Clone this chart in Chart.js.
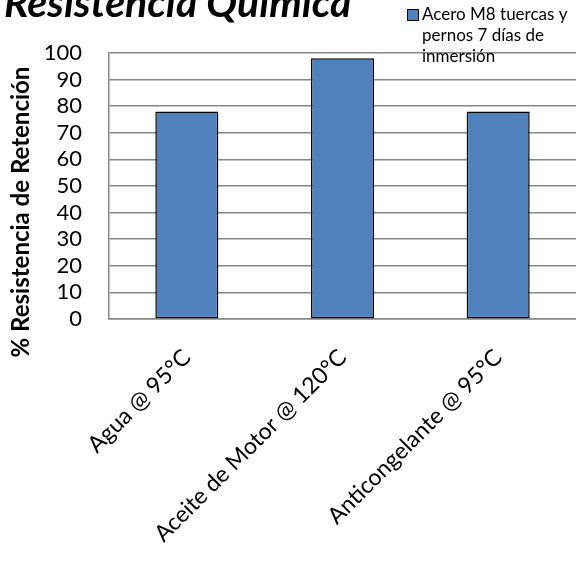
<!DOCTYPE html>
<html>
<head>
<meta charset="utf-8">
<script src="https://cdn.jsdelivr.net/npm/chart.js@4"></script>
<style>
  html, body { margin: 0; padding: 0; background: #fff; }
  #wrap { width: 576px; height: 567px; position: relative; }
</style>
</head>
<body>
<div id="wrap"><canvas id="barChart"></canvas></div>
<script>
const categories = ['Agua @ 95°C', 'Aceite de Motor @ 120°C', 'Anticongelante @ 95°C'];
const retention = [78, 98, 78];
const seriesLabel = ['Acero M8 tuercas y', 'pernos 7 días de', 'inmersión'];
const chartTitle = 'Resistencia Química';
const yAxisTitle = '% Resistencia de Retención';

const fontFamily = 'Lato, "Open Sans", sans-serif';
const barColor = '#4f81bd';

// title, legend and y title are drawn by hand, they sit outside the usual boxes
const extras = {
    id: 'extras',
    afterDraw(chart) {
        const ctx = chart.ctx;
        ctx.save();
        ctx.fillStyle = '#000';
        ctx.font = 'italic bold 41px ' + fontFamily;
        ctx.textBaseline = 'alphabetic';
        ctx.textAlign = 'left';
        ctx.fillText(chartTitle, 4, 17);

        ctx.fillStyle = barColor;
        ctx.fillRect(407, 9, 12, 12);
        ctx.strokeStyle = '#000';
        ctx.lineWidth = 1;
        ctx.strokeRect(407.5, 9.5, 11, 11);

        ctx.fillStyle = '#000';
        ctx.font = '17px ' + fontFamily;
        ctx.textBaseline = 'middle';
        seriesLabel.forEach((line, i) => {
            ctx.fillText(line, 422, 15 + i * 21);
        });

        ctx.translate(21, 212);
        ctx.rotate(-Math.PI / 2);
        ctx.textAlign = 'center';
        ctx.font = 'bold 24px ' + fontFamily;
        ctx.fillText(yAxisTitle, 0, 0);
        ctx.restore();
    }
};

new Chart(document.getElementById('barChart'), {
    type: 'bar',
    data: {
        labels: categories,
        datasets: [{
            label: seriesLabel.join(' '),
            data: retention,
            backgroundColor: barColor,
            borderColor: '#000',
            borderWidth: 1.5,
            borderSkipped: false,
            barPercentage: 0.405,
            categoryPercentage: 1
        }]
    },
    options: {
        responsive: true,
        maintainAspectRatio: false,
        animation: false,
        layout: {
            padding: { top: 53, right: 0, bottom: 0, left: 0 }
        },
        plugins: {
            legend: { display: false },
            tooltip: { enabled: false }
        },
        scales: {
            x: {
                grid: { display: false, drawTicks: false },
                border: { color: '#868686', width: 1.5 },
                ticks: {
                    color: '#000',
                    font: { family: fontFamily, size: 23 },
                    minRotation: 45,
                    maxRotation: 45,
                    padding: 25
                },
                afterFit(scale) { scale.height = 248; }
            },
            y: {
                min: 0,
                max: 100,
                ticks: {
                    stepSize: 10,
                    autoSkip: false,
                    color: '#000',
                    font: { family: fontFamily, size: 22 },
                    padding: 27
                },
                grid: { color: '#868686', lineWidth: 1.5, drawTicks: false },
                border: { color: '#868686', width: 1.5 },
                afterFit(scale) { scale.width = 109; }
            }
        }
    },
    plugins: [extras]
});
</script>
</body>
</html>
